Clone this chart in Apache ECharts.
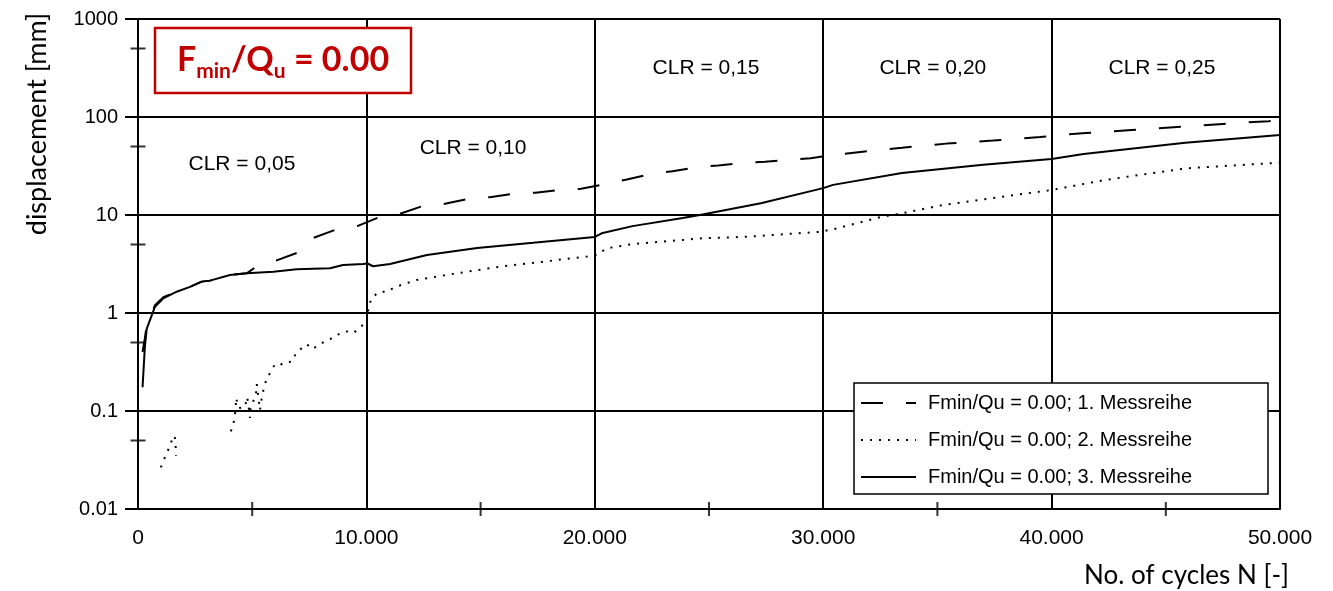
<!DOCTYPE html>
<html>
<head>
<meta charset="utf-8">
<script src="https://cdn.jsdelivr.net/npm/echarts@6/dist/echarts.min.js"></script>
<style>
html,body{margin:0;padding:0;background:#fff;}
#chart{width:1333px;height:591px;}
</style>
</head>
<body>
<div id="chart"></div>
<script>
// ---- data ----
const seriesNames = [
  'Fmin/Qu = 0.00; 1. Messreihe',
  'Fmin/Qu = 0.00; 2. Messreihe',
  'Fmin/Qu = 0.00; 3. Messreihe'
];
const run1 = [
  [200,0.4],[300,0.55],[381,0.75],[744,1.2],[1108,1.45],[1694,1.65],[2277,1.85],[2789,2.09],[3152,2.14],
  [4028,2.44],[4759,2.54],[5200,3.0],[6000,3.4],[6950,4.1],[7650,5.8],[8600,7.0],[9600,7.7],[10460,9.3],[11470,10.3],
  [12400,12.2],[13350,12.9],[14400,14.5],[15400,15.2],[16400,16.4],[17400,16.9],[18400,18.0],[19400,18.5],
  [20400,20.5],[21400,23],[22400,26],[23400,28],[24600,31],[25400,32],[26450,34],[27450,35],
  [28400,36.5],[29450,38],[30430,41],[31440,43.5],[32400,46],[33450,48.5],[34400,51],[35400,53.5],
  [36460,55.5],[37430,57.5],[38480,60],[39500,62.5],[40540,66],[41500,68.5],[42500,71],[43500,73.5],
  [44500,76],[45500,79],[46500,82],[47500,85],[48500,88],[49500,90.5],[50000,92]
];
const run2 = [
  [1000,0.0266],[1140,0.032],[1430,0.046],[1540,0.056],[1620,0.053],[1650,0.043],[1660,0.035],[2800,'-'],
  [4060,0.062],[4160,0.069],[4230,0.087],[4280,0.107],[4290,0.136],[4340,0.124],[4420,0.107],[4690,0.110],
  [4770,0.139],[4820,0.124],[4900,0.085],[4930,0.105],[5040,0.124],[5170,0.154],[5200,0.188],[5340,0.102],
  [5420,0.136],[5520,0.176],[5630,0.212],[5780,0.244],[5950,0.288],[6130,0.28],[6350,0.31],[6730,0.318],
  [6900,0.38],[7170,0.44],[7400,0.48],[7600,0.43],[7880,0.46],[8100,0.50],[8410,0.54],[8700,0.6],
  [8980,0.62],[9200,0.655],[9460,0.63],[9720,0.72],[10010,0.79],[10060,1.0],[10110,1.21],[10280,1.47],
  [10600,1.65],[10890,1.65],[11250,1.84],[12200,2.17],[13950,2.54],[15850,2.97],[17730,3.34],[19640,3.76],
  [20080,3.9],[20520,4.57],[21670,5.06],[23850,5.56],[24600,5.77],[26700,6.0],[29900,6.75],[30600,7.3],
  [32570,9.6],[33450,10.4],[35200,12.6],[40000,18],[42300,22.7],[45850,29.9],[50000,34.2]
];
const run3 = [
  [200,0.175],[300,0.45],[381,0.69],[744,1.16],[1108,1.41],[1694,1.65],[2277,1.85],[2789,2.09],
  [3152,2.14],[4028,2.44],[4759,2.54],[5924,2.64],[6948,2.79],[8406,2.86],[8975,3.09],[9851,3.16],
  [10050,3.2],[10289,3.0],[11033,3.16],[12650,3.9],[14850,4.6],[17300,5.2],[20000,5.97],[20300,6.5],
  [21650,7.7],[23850,9.3],[24600,10],[27270,13.2],[30000,18.8],[30430,20.3],[33450,26.8],[37000,32.5],
  [40000,37.3],[41400,42],[45850,54.5],[50000,65.6]
];
const clrLabels = [
  [4550,32.7,'CLR = 0,05'],[14670,48.3,'CLR = 0,10'],[24870,316,'CLR = 0,15'],
  [34800,316,'CLR = 0,20'],[44830,316,'CLR = 0,25']
];
const yTickLabels = ['0.01','0.1','1','10','100','1000'];
const yMinorTicks = [0.05,0.5,5,50,500];
const xMinorTicks = [5000,15000,25000,35000,45000];

// ---- chart ----
const chart = echarts.init(document.getElementById('chart'), null, {renderer:'canvas'});
const ARIAL = '"Liberation Sans", Arial, sans-serif';
const CAL = 'Lato, "Open Sans", sans-serif';
const BLACK = '#000';

const option = {
  animation:false,
  backgroundColor:'#fff',
  grid:{left:138,right:53,top:19,bottom:82,containLabel:false},
  xAxis:{
    type:'value',min:0,max:50000,interval:10000,
    axisLine:{show:true,lineStyle:{color:BLACK,width:2}},
    axisTick:{show:false},
    splitLine:{show:true,lineStyle:{color:BLACK,width:2}},
    axisLabel:{color:BLACK,fontFamily:ARIAL,fontSize:21,margin:19,
      formatter:v=>String(v).replace(/\B(?=(\d{3})+(?!\d))/g,'.')}
  },
  yAxis:{
    type:'log',logBase:10,min:0.01,max:1000,
    axisLine:{show:true,lineStyle:{color:BLACK,width:2}},
    axisTick:{show:true,length:13,lineStyle:{color:BLACK,width:2}},
    splitLine:{show:true,lineStyle:{color:BLACK,width:2}},
    axisLabel:{color:BLACK,fontFamily:ARIAL,fontSize:20,margin:20,
      formatter:v=>yTickLabels[Math.round(Math.log10(v))+2]}
  },
  legend:{
    data:seriesNames,orient:'vertical',left:854,top:383,
    backgroundColor:'#fff',borderColor:BLACK,borderWidth:1.5,
    padding:[10,76,7,6],itemWidth:55,itemHeight:20,itemGap:17,
    itemStyle:{opacity:0},
    textStyle:{color:BLACK,fontFamily:ARIAL,fontSize:20,padding:[0,0,0,7]},
    selectedMode:false,z:10
  },
  series:[
    {name:seriesNames[0],type:'line',data:run1,symbol:'none',showSymbol:false,
     lineStyle:{color:BLACK,width:2,type:[22,23]},z:3},
    {name:seriesNames[1],type:'line',data:run2,symbol:'none',showSymbol:false,connectNulls:false,
     lineStyle:{color:BLACK,width:2,type:[2,7]},z:3},
    {name:seriesNames[2],type:'line',data:run3,symbol:'none',showSymbol:false,
     lineStyle:{color:BLACK,width:2,type:'solid'},z:4},
    {type:'scatter',data:yMinorTicks.map(v=>[0,v]),symbol:'rect',symbolSize:[15,2],
     itemStyle:{color:BLACK},clip:false,silent:true,z:5},
    {type:'scatter',data:xMinorTicks.map(v=>[v,0.01]),symbol:'rect',symbolSize:[2,14],
     itemStyle:{color:BLACK},clip:false,silent:true,z:5},
    {type:'scatter',data:clrLabels,symbolSize:1,itemStyle:{color:'rgba(0,0,0,0)'},silent:true,
     label:{show:true,position:'inside',formatter:p=>p.data[2],color:BLACK,textBorderWidth:0,
       opacity:1,fontFamily:ARIAL,fontSize:21},z:6}
  ],
  graphic:[
    {type:'text',x:37,y:124,rotation:Math.PI/2,z:10,
     style:{text:'displacement [mm]',fill:BLACK,font:'27px '+CAL,textAlign:'center',textVerticalAlign:'middle'}},
    {type:'text',x:1289,y:576,z:10,
     style:{text:'No. of cycles N [-]',fill:BLACK,font:'26px '+CAL,textAlign:'right',textVerticalAlign:'middle'}},
    {type:'rect',z:20,shape:{x:155,y:28,width:256,height:65},
     style:{fill:'#fff',stroke:'#c00000',lineWidth:2.5}},
    {type:'text',z:21,x:283,y:60,
     style:{
       text:'{b|F}{s|min}{b|/Q}{s|u}{b| = 0.00}',
       textAlign:'center',textVerticalAlign:'middle',
       rich:{
         b:{fontFamily:CAL,fontWeight:'bold',fontSize:34,fill:'#c00000',lineHeight:38},
         s:{fontFamily:CAL,fontWeight:'bold',fontSize:21,fill:'#c00000',lineHeight:20,padding:[22,0,0,0]}
       }
     }}
  ]
};
chart.setOption(option);
</script>
</body>
</html>
